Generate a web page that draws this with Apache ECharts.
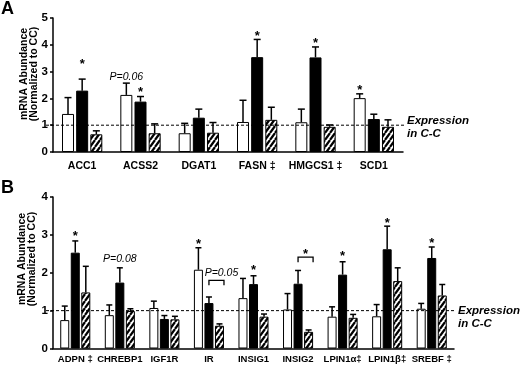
<!DOCTYPE html>
<html><head><meta charset="utf-8">
<script src="https://cdn.jsdelivr.net/npm/echarts@6/dist/echarts.min.js"></script>
<style>html,body{margin:0;padding:0;background:#fff}#c{width:520px;height:365px}</style>
</head><body><div id="c"></div>
<script>
// ---------- Panel A data ----------
const catsA = ['ACC1', 'ACSS2', 'DGAT1', 'FASN \u2021', 'HMGCS1 \u2021', 'SCD1'];
const whiteA = [1.42, 2.13, 0.70, 1.12, 1.11, 2.01];
const whiteErrA = [2.03, 2.57, 1.07, 1.93, 1.60, 2.17];
const blackA = [2.29, 1.88, 1.28, 3.54, 3.53, 1.23];
const blackErrA = [2.72, 2.07, 1.60, 4.20, 3.92, 1.41];
const hatchA = [0.66, 0.70, 0.72, 1.20, 0.94, 0.94];
const hatchErrA = [0.79, 1.05, 1.10, 1.67, 1.01, 1.20];
const yTicksA = [0, 1, 2, 3, 4, 5];
// annotations: [category index, bar (0 white,1 black,2 hatched), y value, text]
const annotA = [[0, 1, 3.38, '*'], [1, 1, 2.34, '*'], [1, 0, 2.78, 'P=0.06'], [3, 1, 4.44, '*'], [4, 1, 4.19, '*'], [5, 0, 2.42, '*']];

// ---------- Panel B data ----------
const catsB = ['ADPN \u2021', 'CHREBP1', 'IGF1R', 'IR', 'INSIG1', 'INSIG2', 'LPIN1\u03b1\u2021', 'LPIN1\u03b2\u2021', 'SREBF \u2021'];
const whiteB = [0.75, 0.88, 1.07, 2.08, 1.33, 1.03, 0.84, 0.85, 1.05];
const whiteErrB = [1.12, 1.15, 1.25, 2.66, 1.85, 1.45, 1.10, 1.16, 1.19];
const blackB = [2.53, 1.74, 0.78, 1.20, 1.70, 1.71, 1.95, 2.62, 2.39];
const blackErrB = [2.84, 2.13, 0.87, 1.36, 1.92, 2.06, 2.29, 3.23, 2.68];
const hatchB = [1.48, 0.99, 0.77, 0.60, 0.84, 0.44, 0.81, 1.78, 1.40];
const hatchErrB = [2.17, 1.05, 0.85, 0.65, 0.91, 0.49, 0.90, 2.13, 1.69];
const yTicksB = [0, 1, 2, 3, 4];
const annotB = [[0, 1, 3.06, '*'], [1, 1, 2.36, 'P=0.08'], [3, 0, 2.84, '*'], [4, 1, 2.15, '*'], [6, 1, 2.52, '*'], [7, 1, 3.40, '*'], [8, 1, 2.87, '*']];
// brackets between black and hatched bars: [category index, bracket y, text, text y]
const bracketsB = [[3, 1.80, 'P=0.05', 2.00], [5, 2.41, '*', 2.57]];
const refValue = 1;

// ---------- rendering ----------
const FF = '"Liberation Sans", Arial, sans-serif';
function hatch() {
  const w = 5, h = 7, c = document.createElement('canvas'); c.width = w; c.height = h;
  const g = c.getContext('2d'); g.fillStyle = '#fff'; g.fillRect(0, 0, w, h);
  g.strokeStyle = '#000'; g.lineWidth = 2.2;
  for (const o of [-w, 0, w]) { g.beginPath(); g.moveTo(o, h); g.lineTo(o + w, 0); g.stroke(); }
  return c;
}
const hatchImg = hatch();
const L = {
  A: { bw: 12, gap: 0.18, cap: 7, textDy: -4.5 },
  B: { bw: 9, gap: 0.17, cap: 6, textDy: 0 }
};
const styles = [
  { color: '#fff', borderColor: '#000', borderWidth: 1 },
  { color: '#000', borderColor: '#000', borderWidth: 1 },
  { color: { image: hatchImg, repeat: 'repeat' }, borderColor: '#000', borderWidth: 1 }
];
function barSeries(ai, cats, vals, s, lay) {
  return { type: 'bar', xAxisIndex: ai, yAxisIndex: ai, data: vals, barWidth: lay.bw,
    barGap: Math.round(lay.gap * 100) + '%', itemStyle: styles[s], silent: true, z: 2 };
}
function errSeries(ai, cats, tops, vals, s, lay) {
  return { type: 'custom', xAxisIndex: ai, yAxisIndex: ai, z: 5, silent: true,
    data: tops.map((t, i) => [cats[i], t, vals[i]]), encode: { x: 0, y: 1 },
    renderItem: (p, api) => {
      const i = api.value(0);
      const top = api.coord([i, api.value(1)]), base = api.coord([i, api.value(2)]);
      const x = top[0] + (s - 1) * lay.bw * (1 + lay.gap);
      const st = { stroke: '#000', lineWidth: 1.5 };
      return { type: 'group', children: [
        { type: 'line', shape: { x1: x, y1: base[1], x2: x, y2: top[1] }, style: st },
        { type: 'line', shape: { x1: x - lay.cap / 2, y1: top[1], x2: x + lay.cap / 2, y2: top[1] }, style: st }
      ] };
    } };
}
function annSeries(ai, cats, ann, lay) {
  return { type: 'custom', xAxisIndex: ai, yAxisIndex: ai, z: 6, silent: true,
    data: ann.map(a => [cats[a[0]], a[2], a[1], a[3]]), encode: { x: 0, y: 1 },
    renderItem: (p, api) => {
      const a = ann[p.dataIndex];
      const c = api.coord([api.value(0), a[2]]);
      const x = c[0] + (a[1] - 1) * lay.bw * (1 + lay.gap);
      const star = a[3] === '*';
      return { type: 'text', x: x, y: c[1] + (star ? 3.5 : 0), style: { text: a[3], fill: '#000',
        font: star ? 'bold 13px ' + FF : 'italic 10.5px ' + FF, align: 'center', verticalAlign: 'middle' } };
    } };
}
function brSeries(ai, cats, br, lay) {
  return { type: 'custom', xAxisIndex: ai, yAxisIndex: ai, z: 6, silent: true,
    data: br.map(b => [cats[b[0]], b[1]]), encode: { x: 0, y: 1 },
    renderItem: (p, api) => {
      const b = br[p.dataIndex];
      const c = api.coord([api.value(0), b[1]]);
      const t = api.coord([api.value(0), b[3]]);
      const step = lay.bw * (1 + lay.gap);
      const x1 = c[0], x2 = c[0] + step + lay.bw / 2;
      const star = b[2] === '*';
      const st = { stroke: '#000', lineWidth: 1.3, fill: null };
      return { type: 'group', children: [
        { type: 'polyline', shape: { points: [[x1, c[1] + 5], [x1, c[1]], [x2, c[1]], [x2, c[1] + 5]] }, style: st },
        { type: 'text', x: star ? (x1 + x2) / 2 : (x1 + x2) / 2 + 5, y: t[1] + (star ? 3.5 : 0),
          style: { text: b[2], fill: '#000', font: star ? 'bold 13px ' + FF : 'italic 10.5px ' + FF, align: 'center', verticalAlign: 'middle' } }
      ] };
    } };
}
function refSeries(ai, cats, lay) {
  return { type: 'custom', xAxisIndex: ai, yAxisIndex: ai, z: 4, silent: true,
    data: [[cats[0], refValue]], encode: { x: 0, y: 1 },
    renderItem: (p, api) => {
      const cs = p.coordSys; const y = api.coord([api.value(0), refValue])[1];
      return { type: 'group', children: [
        { type: 'line', shape: { x1: cs.x - 7, y1: y, x2: cs.x + cs.width + 2, y2: y }, style: { stroke: '#000', lineWidth: 1, lineDash: [3, 2] } },
        { type: 'text', x: cs.x + cs.width + 4, y: y + lay.textDy - 6, style: { text: 'Expression\nin C-C', fill: '#000',
          font: 'italic bold 11.5px ' + FF, lineHeight: 12.5, align: 'left', verticalAlign: 'top' } }
      ] };
    } };
}
function xAxis(gi, cats, fs, margin) {
  return { type: 'category', gridIndex: gi, data: cats,
    axisLine: { lineStyle: { color: '#000', width: 1.5 } },
    axisTick: { length: 4, lineStyle: { color: '#000', width: 1.5 } },
    axisLabel: { interval: 0, color: '#000', fontWeight: 'bold', fontSize: fs, fontFamily: FF, margin: margin } };
}
function yAxis(gi, ticks) {
  return { type: 'value', gridIndex: gi, min: ticks[0], max: ticks[ticks.length - 1], interval: ticks[1] - ticks[0],
    splitLine: { show: false },
    axisLine: { show: true, lineStyle: { color: '#000', width: 1.5 } },
    axisTick: { show: true, length: 3, lineStyle: { color: '#000', width: 1.5 } },
    axisLabel: { color: '#000', fontWeight: 'bold', fontSize: 11.5, fontFamily: FF, margin: 5 } };
}
const chart = echarts.init(document.getElementById('c'), null, { renderer: 'canvas' });
function ytitle(x, y) {
  return [
    { type: 'text', x: x, y: y, rotation: Math.PI / 2, style: { text: 'mRNA Abundance', fill: '#000', font: 'bold 10.5px ' + FF, align: 'center', verticalAlign: 'middle' } },
    { type: 'text', x: x + 10.5, y: y, rotation: Math.PI / 2, style: { text: '(Normalized to CC)', fill: '#000', font: 'bold 10.5px ' + FF, align: 'center', verticalAlign: 'middle' } }
  ];
}
chart.setOption({
  animation: false,
  backgroundColor: '#fff',
  grid: [
    { left: 53, top: 18, width: 350, height: 134 },
    { left: 53, top: 197, width: 401, height: 151.5 }
  ],
  xAxis: [xAxis(0, catsA, 10.5, 9), xAxis(1, catsB, 9.5, 6)],
  yAxis: [yAxis(0, yTicksA), yAxis(1, yTicksB)],
  graphic: [
    { type: 'text', left: 1, top: 0, style: { text: 'A', fill: '#000', font: 'bold 18px ' + FF } },
    { type: 'text', left: 1, top: 179, style: { text: 'B', fill: '#000', font: 'bold 18px ' + FF } },
    ...ytitle(24, 74), ...ytitle(22, 259)
  ],
  series: [
    barSeries(0, catsA, whiteA, 0, L.A), barSeries(0, catsA, blackA, 1, L.A), barSeries(0, catsA, hatchA, 2, L.A),
    errSeries(0, catsA, whiteErrA, whiteA, 0, L.A), errSeries(0, catsA, blackErrA, blackA, 1, L.A), errSeries(0, catsA, hatchErrA, hatchA, 2, L.A),
    annSeries(0, catsA, annotA, L.A), refSeries(0, catsA, L.A),
    barSeries(1, catsB, whiteB, 0, L.B), barSeries(1, catsB, blackB, 1, L.B), barSeries(1, catsB, hatchB, 2, L.B),
    errSeries(1, catsB, whiteErrB, whiteB, 0, L.B), errSeries(1, catsB, blackErrB, blackB, 1, L.B), errSeries(1, catsB, hatchErrB, hatchB, 2, L.B),
    annSeries(1, catsB, annotB, L.B), brSeries(1, catsB, bracketsB, L.B), refSeries(1, catsB, L.B)
  ]
});
</script></body></html>
